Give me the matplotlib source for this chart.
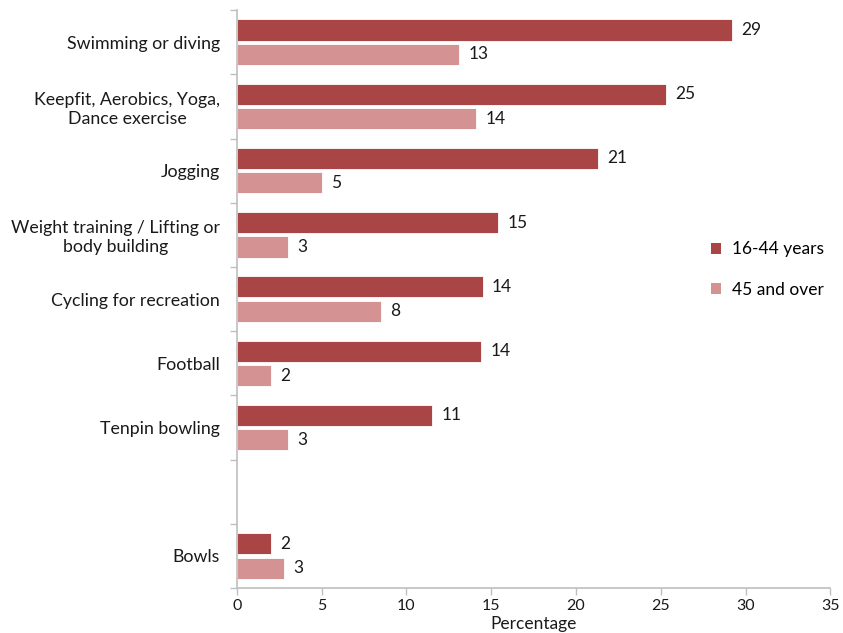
import numpy as np
import matplotlib.pyplot as plt
from matplotlib.patches import Patch

# Data (percent)
categories = ['Swimming or diving', 'Keepfit, Aerobics, Yoga,\nDance exercise', 'Jogging',
              'Weight training / Lifting or\nbody building', 'Cycling for recreation',
              'Football', 'Tenpin bowling', '', 'Bowls']
young = [29.2, 25.3, 21.3, 15.4, 14.5, 14.4, 11.5, None, 2.0]
older = [13.1, 14.1, 5.0, 3.0, 8.5, 2.0, 3.0, None, 2.8]
young_labels = ['29', '25', '21', '15', '14', '14', '11', '', '2']
older_labels = ['13', '14', '5', '3', '8', '2', '3', '', '3']
series_names = ['16-44 years', '45 and over']

dark = '#a94645'
light = '#d49392'
axis_grey = '#bfbfbf'
txt = '#1a1a1a'

plt.rcParams['font.family'] = ['Lato', 'DejaVu Sans']

fig = plt.figure(figsize=(8.43, 6.33), dpi=100)
ax = fig.add_axes([0.281, 0.071, 0.704, 0.913])

h = 0.33
off = 0.19
for i, cat in enumerate(categories):
    if young[i] is not None:
        ax.barh(i - off, young[i], height=h, color=dark, edgecolor='white', linewidth=0.6)
        ax.text(young[i] + 0.55, i - off, young_labels[i], va='center', ha='left',
                fontsize=12.5, color=txt)
    if older[i] is not None:
        ax.barh(i + off, older[i], height=h, color=light, edgecolor='white', linewidth=0.6)
        ax.text(older[i] + 0.55, i + off, older_labels[i], va='center', ha='left',
                fontsize=12.5, color=txt)

ax.set_ylim(len(categories) - 0.5, -0.5)
ax.set_xlim(0, 35)
ax.set_xticks(np.arange(0, 36, 5))
ax.set_yticks(range(len(categories)))
ax.set_yticklabels(categories, fontsize=12.8, color=txt, multialignment='center')
ax.set_yticks(np.arange(-0.5, len(categories), 1), minor=True)
ax.tick_params(axis='y', which='major', length=0, pad=12)
ax.tick_params(axis='y', which='minor', length=5, color=axis_grey, width=1)
ax.tick_params(axis='x', length=5, color=axis_grey, width=1, labelsize=11.5,
               labelcolor=txt, pad=3)

for s in ['top', 'right']:
    ax.spines[s].set_visible(False)
for s in ['left', 'bottom']:
    ax.spines[s].set_color(axis_grey)
    ax.spines[s].set_linewidth(1.2)

ax.set_xlabel('Percentage', fontsize=12.5, color=txt, labelpad=2)

handles = [Patch(facecolor=dark), Patch(facecolor=light)]
ax.legend(handles, series_names, loc='upper left', bbox_to_anchor=(0.772, 0.627),
          frameon=False, fontsize=12.5, handlelength=0.6, handleheight=0.6,
          handletextpad=0.6, labelspacing=1.4)

fig.savefig('out.png', dpi=100)
